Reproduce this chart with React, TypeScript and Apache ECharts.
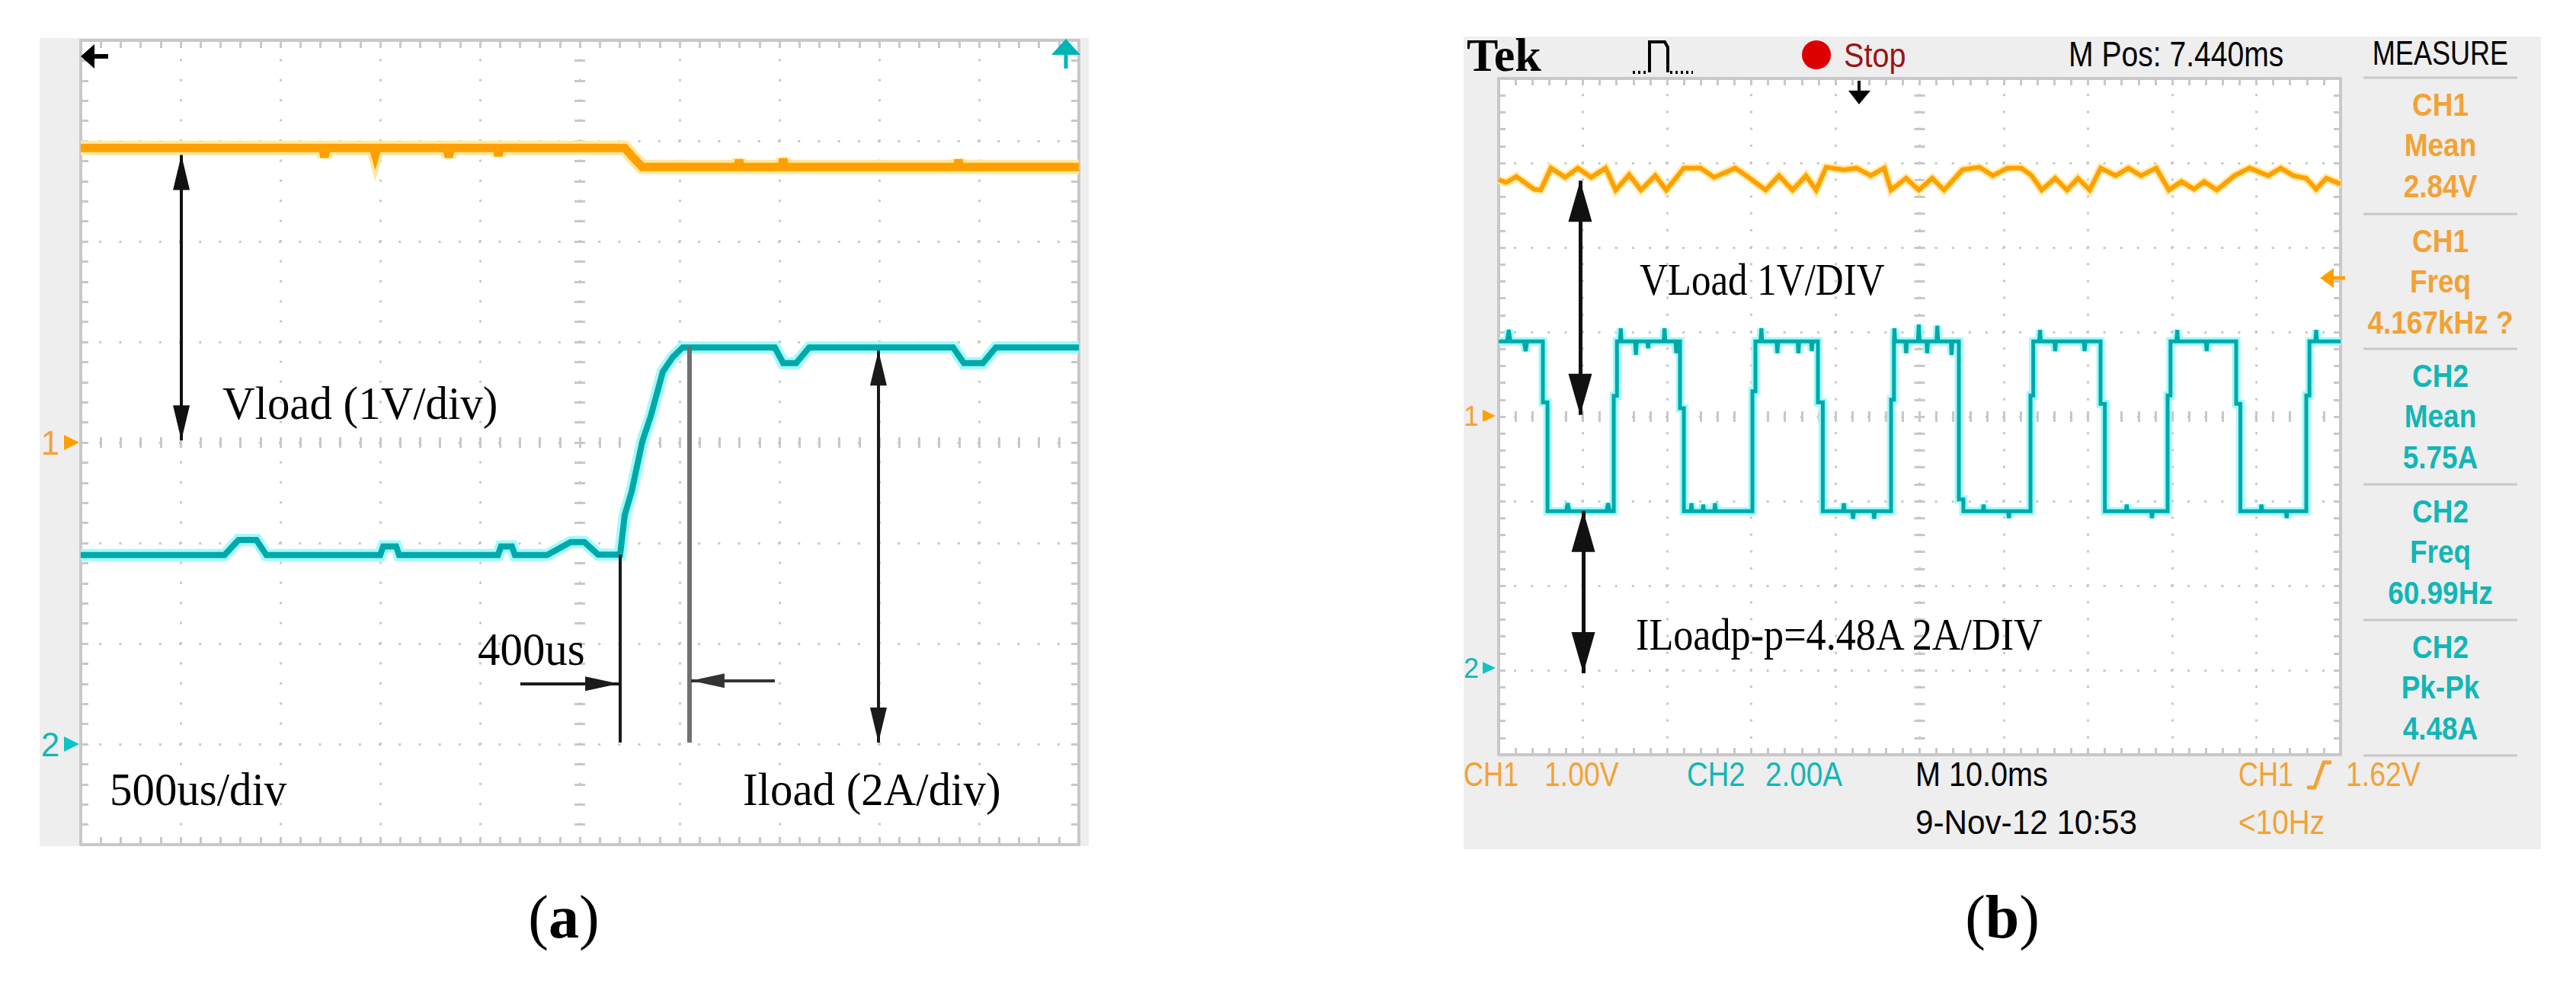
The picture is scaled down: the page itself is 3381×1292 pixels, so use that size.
import React, { useEffect, useRef } from "react";
import * as echarts from "echarts";

const W = 3381;
const H = 1292;

// ---------- scales ----------
const aTime = { min: 0, max: 5000, step: 500 }; // µs, 500 us/div
const bTime = { min: 0, max: 100, step: 10 }; // ms, 10.0 ms/div
const volts = { min: -4, max: 4, step: 1 }; // CH1 1 V/div
const amps = { min: -2, max: 14, step: 2 }; // CH2 2 A/div

// ---------- panel (a): load step ----------
const aVload = [
  [0, 2.93], [1210, 2.93], [1221, 2.84], [1232, 2.93], [1465, 2.93], [1475, 2.86], [1485, 2.93],
  [1833, 2.93], [1844, 2.84], [1855, 2.93], [2085, 2.93], [2092, 2.85], [2100, 2.93],
  [2725, 2.93], [2760, 2.85], [2813, 2.74], [3290, 2.74], [3298, 2.81], [3306, 2.74],
  [3510, 2.74], [3519, 2.82], [3528, 2.74], [4390, 2.74], [4397, 2.81], [4405, 2.74], [5000, 2.74],
];
const aIload = [
  [0, 3.76], [720, 3.76], [790, 4.06], [880, 4.06], [930, 3.76], [1500, 3.76], [1515, 3.93],
  [1580, 3.93], [1595, 3.76], [2090, 3.76], [2105, 3.93], [2160, 3.93], [2175, 3.76],
  [2336, 3.76], [2454, 4.02], [2523, 4.02], [2592, 3.77], [2702, 3.77], [2725, 4.56],
  [2760, 5.03], [2813, 6.02], [2855, 6.52], [2916, 7.41], [2966, 7.7], [3015, 7.89],
  [3477, 7.89], [3519, 7.58], [3584, 7.58], [3649, 7.89], [4370, 7.89], [4424, 7.58],
  [4519, 7.58], [4584, 7.89], [5000, 7.89],
];

// ---------- panel (b): pulsed load ----------
const bVload = [
  [0, 2.8], [0.9, 2.77], [2.1, 2.84], [4.2, 2.69], [5.0, 2.68], [6.2, 2.94], [7.9, 2.83], [9.4, 2.94],
  [11.0, 2.83], [12.7, 2.94], [13.9, 2.68], [15.5, 2.86], [16.9, 2.68], [18.6, 2.85], [19.9, 2.68],
  [22.0, 2.94], [24.0, 2.94], [25.6, 2.83], [28.1, 2.94], [29.7, 2.83], [31.7, 2.68], [33.3, 2.85],
  [34.9, 2.68], [36.5, 2.85], [37.7, 2.68], [38.9, 2.95], [41.0, 2.92], [42.5, 2.94], [44.2, 2.85],
  [45.8, 2.94], [46.6, 2.68], [48.4, 2.82], [49.9, 2.68], [51.5, 2.82], [52.9, 2.68], [55.1, 2.92],
  [57.1, 2.95], [58.7, 2.85], [60.4, 2.94], [62.1, 2.94], [63.3, 2.85], [64.5, 2.68], [66.1, 2.82],
  [67.5, 2.68], [68.8, 2.82], [70.2, 2.68], [71.5, 2.94], [73.3, 2.85], [74.8, 2.94], [76.3, 2.85],
  [78.1, 2.94], [79.6, 2.68], [81.1, 2.78], [82.6, 2.69], [83.8, 2.78], [85.3, 2.68], [87.4, 2.85],
  [89.2, 2.94], [91.4, 2.85], [92.9, 2.94], [94.4, 2.85], [95.9, 2.82], [97.1, 2.69], [98.3, 2.82],
  [99.8, 2.76], [100, 2.76],
];
const bIload = [
  [0, 7.78], [1.0, 7.78], [1.2, 8.05], [1.4, 7.78], [3.0, 7.78], [3.2, 7.55], [3.4, 7.78],
  [5.25, 7.78], [5.25, 6.34], [5.8, 6.34], [5.8, 3.76],
  [8.0, 3.76], [8.2, 3.95], [8.4, 3.76], [12.8, 3.76], [13.0, 3.95], [13.2, 3.76],
  [13.67, 3.76], [13.67, 6.49], [14.05, 6.49], [14.05, 7.78],
  [14.4, 7.78], [14.5, 8.09], [14.6, 7.78], [16.2, 7.78], [16.3, 7.46], [16.4, 7.78], [17.65, 7.78],
  [17.75, 7.62], [17.85, 7.78], [19.6, 7.78], [19.7, 8.09], [19.8, 7.78], [21.0, 7.78], [21.1, 7.5], [21.2, 7.78],
  [21.54, 7.78], [21.54, 6.2], [22.0, 6.2], [22.0, 3.76],
  [22.8, 3.76], [22.9, 3.95], [23.0, 3.76], [24.2, 3.76], [24.3, 3.92], [24.4, 3.76], [25.6, 3.76],
  [25.7, 3.95], [25.8, 3.76],
  [30.14, 3.76], [30.14, 6.6], [30.5, 6.6], [30.5, 7.78],
  [31.1, 7.78], [31.2, 8.09], [31.3, 7.78], [33.0, 7.78], [33.1, 7.5], [33.2, 7.78], [35.5, 7.78],
  [35.6, 7.5], [35.7, 7.78], [37.1, 7.78], [37.2, 7.55], [37.3, 7.78],
  [37.92, 7.78], [37.92, 6.34], [38.5, 6.34], [38.5, 3.76],
  [40.9, 3.76], [41.0, 3.95], [41.1, 3.76], [42.0, 3.76], [42.1, 3.58], [42.2, 3.76], [44.5, 3.76],
  [44.6, 3.58], [44.7, 3.76],
  [46.61, 3.76], [46.61, 6.4], [46.95, 6.4], [46.95, 7.78],
  [47.0, 8.09], [47.1, 7.78], [48.3, 7.78], [48.4, 7.5], [48.5, 7.78], [49.8, 7.78], [49.9, 8.18],
  [50.0, 7.78], [50.8, 7.78], [50.9, 7.5], [51.0, 7.78], [52.0, 7.78], [52.1, 8.15], [52.2, 7.78],
  [53.7, 7.78], [53.8, 7.46], [53.9, 7.78],
  [54.66, 7.78], [54.66, 4.04], [55.2, 4.04], [55.2, 3.76],
  [57.5, 3.76], [57.6, 3.92], [57.7, 3.76], [60.5, 3.76], [60.6, 3.6], [60.7, 3.76],
  [63.17, 3.76], [63.17, 6.5], [63.5, 6.5], [63.5, 7.78],
  [64.2, 7.78], [64.3, 8.05], [64.4, 7.78], [66.0, 7.78], [66.1, 7.55], [66.2, 7.78], [69.5, 7.78],
  [69.6, 7.55], [69.7, 7.78],
  [71.49, 7.78], [71.49, 6.3], [72.0, 6.3], [72.0, 3.76],
  [74.5, 3.76], [74.6, 3.92], [74.7, 3.76], [77.5, 3.76], [77.6, 3.6], [77.7, 3.76],
  [79.46, 3.76], [79.46, 6.5], [79.8, 6.5], [79.8, 7.78],
  [80.5, 7.78], [80.6, 8.05], [80.7, 7.78], [84.0, 7.78], [84.1, 7.55], [84.2, 7.78],
  [87.6, 7.78], [87.6, 6.3], [88.1, 6.3], [88.1, 3.76],
  [90.5, 3.76], [90.6, 3.92], [90.7, 3.76], [93.5, 3.76], [93.6, 3.6], [93.7, 3.76],
  [95.93, 3.76], [95.93, 6.5], [96.3, 6.5], [96.3, 7.78],
  [97.0, 7.78], [97.1, 8.05], [97.2, 7.78], [100, 7.78],
];

// ---------- texts ----------
const aLabels = ["Vload (1V/div)", "400us", "500us/div", "Iload (2A/div)"];
const bLabels = ["VLoad 1V/DIV", "ILoadp-p=4.48A 2A/DIV"];
const measureTitle = "MEASURE";
const measureRows = [
  ["CH1", "Mean", "2.84V"],
  ["CH1", "Freq", "4.167kHz ?"],
  ["CH2", "Mean", "5.75A"],
  ["CH2", "Freq", "60.99Hz"],
  ["CH2", "Pk-Pk", "4.48A"],
];
const measureChannel = [1, 1, 2, 2, 2];

// ---------- layout / style ----------
const GA = { left: 106, top: 53, width: 1310, height: 1056 };
const GB = { left: 1967, top: 103, width: 1105, height: 888 };
const GRIDC = "#c8c8c8";
const PANEL = "#eeeeee";
const ORANGE = "#ffa000";
const ORANGE_HALO = "#ffe9a0";
const CYAN = "#00a9a9";
const CYAN_HALO = "#a4fafa";
const TXT_OR = "#f2a236";
const TXT_CY = "#12b6b6";
const SANS = "'Liberation Sans', Arial, sans-serif";
const SERIF = "'Liberation Serif', 'Times New Roman', serif";

function valueAxis(gridIndex: number, s: any, position: string, tickLen: number, extra: any = {}) {
  return {
    type: "value",
    gridIndex,
    min: s.min,
    max: s.max,
    interval: s.step,
    position,
    offset: extra.offset ?? 0,
    axisLine: { show: !extra.center, onZero: false, lineStyle: { color: GRIDC, width: 4 } },
    axisTick: { show: true, inside: true, length: tickLen, lineStyle: { color: GRIDC, width: 3 } },
    minorTick: { show: true, splitNumber: 5, length: tickLen, lineStyle: { color: GRIDC, width: 3 } },
    axisLabel: { show: false },
    splitLine: extra.dot
      ? { show: true, lineStyle: { color: GRIDC, width: 3, type: [3, extra.dot - 3], dashOffset: 1.5, cap: "butt" } }
      : { show: false },
    minorSplitLine: { show: false },
    axisPointer: { show: false },
    silent: true,
  };
}

function trace(xi: number, yi: number, data: number[][], color: string, width: number, z: number, markLine?: any) {
  const s: any = {
    type: "line",
    xAxisIndex: xi,
    yAxisIndex: yi,
    data,
    symbol: "none",
    showSymbol: false,
    silent: true,
    z,
    clip: false,
    animation: false,
    emphasis: { disabled: true },
    lineStyle: { color, width, join: "miter" },
  };
  if (markLine) {
    s.markLine = {
      silent: true,
      animation: false,
      symbol: ["none", "none"],
      label: { show: false },
      emphasis: { disabled: true },
      lineStyle: { type: "solid", color: "#111", width: 4 },
      data: markLine,
    };
  }
  return s;
}

const arrowEnd = (coord: number[], size: number[]) => ({
  coord,
  symbol: "triangle",
  symbolSize: size,
  symbolOffset: [0, size[1] / 2],
});
const plainEnd = (coord: number[]) => ({ coord, symbol: "none" });
const seg = (a: any, b: any, color: string, width: number) => [
  { ...a, lineStyle: { color, width, type: "solid" } },
  { ...b, lineStyle: { color, width, type: "solid" } },
];

function txt(text: string, x: number, y: number, o: any) {
  return {
    type: "text",
    x,
    y,
    scaleX: o.sx ?? 1,
    z: 50,
    silent: true,
    style: {
      text,
      fill: o.fill ?? "#000",
      fontSize: o.size,
      fontFamily: o.family ?? SANS,
      fontWeight: o.weight ?? "normal",
      align: o.align ?? "left",
      verticalAlign: "middle",
      textAlign: o.align ?? "left",
      textVerticalAlign: "middle",
    },
  };
}
const rect = (x: number, y: number, w: number, h: number, fill: string, z: number) => ({
  type: "rect", shape: { x, y, width: w, height: h }, style: { fill }, z, silent: true,
});
const poly = (points: number[][], fill: string) => ({ type: "polygon", shape: { points }, style: { fill }, z: 50, silent: true });
const ln = (x1: number, y1: number, x2: number, y2: number, stroke: string, lineWidth: number, dash?: number[]) => ({
  type: "line", shape: { x1, y1, x2, y2 }, style: { stroke, lineWidth, lineDash: dash ?? null }, z: 50, silent: true,
});

function buildOption() {
  const grid = [
    { ...GA, show: false, containLabel: false, outerBoundsMode: "none" },
    { ...GB, show: false, containLabel: false, outerBoundsMode: "none" },
  ];
  const xAxis = [
    valueAxis(0, aTime, "bottom", 10, { dot: GA.height / 40 }),
    valueAxis(0, aTime, "top", 10),
    valueAxis(0, aTime, "bottom", 14, { offset: -(GA.height / 2 - 7), center: true }),
    valueAxis(1, bTime, "bottom", 9, { dot: GB.height / 40 }),
    valueAxis(1, bTime, "top", 9),
    valueAxis(1, bTime, "bottom", 14, { offset: -(GB.height / 2 - 7), center: true }),
  ];
  const yAxis = [
    valueAxis(0, volts, "left", 10, { dot: GA.width / 50 }),
    valueAxis(0, amps, "right", 10),
    valueAxis(0, volts, "left", 14, { offset: -(GA.width / 2 - 7), center: true }),
    valueAxis(1, volts, "left", 9, { dot: GB.width / 50 }),
    valueAxis(1, amps, "right", 9),
    valueAxis(1, volts, "left", 14, { offset: -(GB.width / 2 - 7), center: true }),
  ];

  const aVArrow = [seg(arrowEnd([504, 2.86], [22, 46]), arrowEnd([504, 0.02], [22, 46]), "#111", 4)];
  const aIMarks = [
    seg(plainEnd([2702, 3.77]), plainEnd([2702, 0.03]), "#1a1a1a", 4),
    seg(plainEnd([3050, 7.9]), plainEnd([3050, 0.03]), "#707070", 6),
    seg(plainEnd([2202, 1.2]), arrowEnd([2695, 1.2], [19, 44]), "#1a1a1a", 4),
    seg(plainEnd([3477, 1.26]), arrowEnd([3057, 1.26], [19, 44]), "#333", 4),
    seg(arrowEnd([3996, 7.83], [22, 46]), arrowEnd([3996, 0.03], [22, 46]), "#1a1a1a", 4),
  ];
  const bVArrow = [seg(arrowEnd([9.68, 2.79], [31, 54]), arrowEnd([9.68, 0.02], [31, 54]), "#111", 5)];
  const bIArrow = [seg(arrowEnd([10.05, 3.77], [31, 54]), arrowEnd([10.05, -0.07], [31, 54]), "#111", 5)];

  const series = [
    trace(0, 0, aVload, ORANGE_HALO, 19, 2),
    trace(0, 0, aVload, ORANGE, 11, 3, aVArrow),
    trace(0, 1, aIload, CYAN_HALO, 16, 2),
    trace(0, 1, aIload, CYAN, 8, 3, aIMarks),
    trace(3, 3, bVload, ORANGE_HALO, 11, 2),
    trace(3, 3, bVload, ORANGE, 6, 3, bVArrow),
    trace(3, 4, bIload, CYAN_HALO, 11, 2),
    trace(3, 4, bIload, CYAN, 5, 3, bIArrow),
  ];

  const g: any[] = [];
  // panels
  g.push(rect(52, 50, 1377, 1061, PANEL, -10));
  g.push(rect(GA.left, GA.top, GA.width, GA.height, "#fff", -9));
  g.push(rect(1921, 48, 1414, 1067, PANEL, -10));
  g.push(rect(GB.left, GB.top, GB.width, GB.height, "#fff", -9));

  // panel (a) markers
  g.push(txt("1", 66, 581, { size: 44, fill: TXT_OR, align: "center" }));
  g.push(poly([[84, 571], [84, 591], [104, 581]], ORANGE));
  g.push(txt("2", 66, 977, { size: 44, fill: TXT_CY, align: "center" }));
  g.push(poly([[84, 967], [84, 987], [104, 977]], "#10c4c4"));
  g.push(poly([[106, 74], [124, 58], [124, 90]], "#000"));
  g.push(ln(122, 74, 142, 74, "#000", 6));
  g.push(poly([[1399, 51], [1380, 72], [1418, 72]], "#00b4b4"));
  g.push(ln(1399, 70, 1399, 90, "#00b4b4", 5));

  // panel (a) annotations
  const aPos = [[292, 529], [627, 852], [144, 1036], [975, 1036]];
  aLabels.forEach((t, i) => g.push(txt(t, aPos[i][0], aPos[i][1], { size: 62, family: SERIF, sx: 0.95 })));

  // panel (b) header
  g.push(txt("Tek", 1925, 72, { size: 62, family: SERIF, weight: "bold" }));
  g.push({
    type: "polyline", shape: { points: [[2165, 95], [2165, 55], [2185, 55], [2189, 62], [2189, 95]] },
    style: { stroke: "#000", lineWidth: 4, fill: null }, z: 50, silent: true,
  });
  g.push(ln(2143, 95, 2163, 95, "#000", 4, [3, 4]));
  g.push(ln(2192, 95, 2222, 95, "#000", 4, [3, 4]));
  g.push({ type: "circle", shape: { cx: 2384, cy: 72, r: 19 }, style: { fill: "#dd0000" }, z: 50, silent: true });
  g.push(txt("Stop", 2420, 73, { size: 44, fill: "#9a1414", sx: 0.9 }));
  g.push(txt("M Pos: 7.440ms", 2715, 71, { size: 46, sx: 0.85 }));
  g.push(txt(measureTitle, 3203, 70, { size: 44, sx: 0.82, align: "center" }));
  g.push(ln(2440, 106, 2440, 121, "#000", 4));
  g.push(poly([[2426, 119], [2455, 119], [2440, 137]], "#000"));

  // measure column
  const seps = [102, 281, 458, 636, 814, 992];
  seps.forEach((y) => g.push(ln(3102, y, 3304, y, GRIDC, 3)));
  measureRows.forEach((rows, i) => {
    const col = measureChannel[i] === 1 ? TXT_OR : TXT_CY;
    rows.forEach((t, j) => g.push(txt(t, 3203, seps[i] + 35 + j * 53.5, { size: 42, weight: "bold", fill: col, sx: 0.88, align: "center" })));
  });

  // panel (b) markers
  g.push(txt("1", 1931, 546, { size: 36, fill: TXT_OR, align: "center" }));
  g.push(poly([[1946, 538], [1946, 554], [1963, 546]], ORANGE));
  g.push(txt("2", 1931, 877, { size: 36, fill: TXT_CY, align: "center" }));
  g.push(poly([[1946, 869], [1946, 885], [1963, 877]], "#10c4c4"));
  g.push(poly([[3045, 365], [3063, 352], [3063, 378]], ORANGE));
  g.push(ln(3061, 365, 3078, 365, ORANGE, 5));

  // panel (b) annotations
  g.push(txt(bLabels[0], 2152, 367, { size: 60, family: SERIF, sx: 0.85 }));
  g.push(txt(bLabels[1], 2147, 833, { size: 60, family: SERIF, sx: 0.87 }));

  // panel (b) status line
  g.push(txt("CH1", 1921, 1017, { size: 44, fill: TXT_OR, sx: 0.82 }));
  g.push(txt("1.00V", 2027, 1017, { size: 44, fill: TXT_OR, sx: 0.85 }));
  g.push(txt("CH2", 2214, 1017, { size: 44, fill: TXT_CY, sx: 0.87 }));
  g.push(txt("2.00A", 2317, 1017, { size: 44, fill: TXT_CY, sx: 0.88 }));
  g.push(txt("M 10.0ms", 2514, 1017, { size: 44, sx: 0.9 }));
  g.push(txt("9-Nov-12 10:53", 2514, 1080, { size: 44, sx: 0.96 }));
  g.push(txt("CH1", 2938, 1017, { size: 44, fill: TXT_OR, sx: 0.82 }));
  g.push({
    type: "polyline", shape: { points: [[3028, 1034], [3038, 1034], [3050, 1001], [3060, 1001]] },
    style: { stroke: TXT_OR, lineWidth: 5, fill: null }, z: 50, silent: true,
  });
  g.push(txt("1.62V", 3079, 1017, { size: 44, fill: TXT_OR, sx: 0.85 }));
  g.push(txt("<10Hz", 2938, 1080, { size: 44, fill: TXT_OR, sx: 0.88 }));

  // sub-figure labels
  const sub = (letter: string, x: number) => ({
    type: "text", x, y: 1204, z: 50, silent: true,
    style: {
      text: `{p|(}{b|${letter}}{p|)}`,
      rich: {
        p: { fontFamily: SERIF, fontSize: 80, fill: "#000" },
        b: { fontFamily: SERIF, fontSize: 80, fontWeight: "bold", fill: "#000" },
      },
      align: "center", verticalAlign: "middle", textAlign: "center", textVerticalAlign: "middle",
    },
  });
  g.push(sub("a", 740));
  g.push(sub("b", 2628));

  return {
    animation: false,
    backgroundColor: "#ffffff",
    grid,
    xAxis,
    yAxis,
    series,
    graphic: { elements: g },
  };
}

export default function App() {
  const ref = useRef<HTMLDivElement>(null);
  useEffect(() => {
    const chart = echarts.init(ref.current!, null, { renderer: "svg", width: W, height: H });
    chart.setOption(buildOption() as any);
    return () => chart.dispose();
  }, []);
  return (
    <div
      ref={ref}
      style={{ position: "absolute", left: 0, top: 0, width: W, height: H, background: "#fff" }}
    />
  );
}
